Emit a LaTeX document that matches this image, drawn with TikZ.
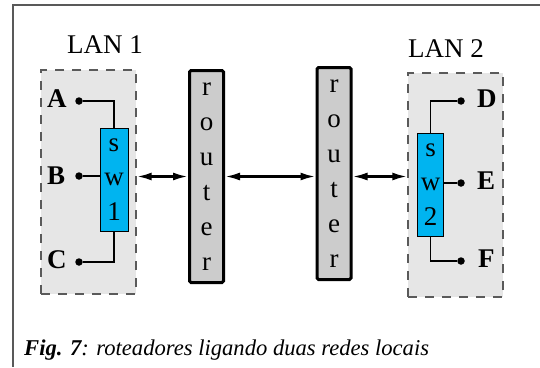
\documentclass[tikz,border=0pt]{standalone}
\usepackage{fontspec}
\setmainfont{Liberation Serif}
\usetikzlibrary{arrows.meta,positioning}
\definecolor{lanGray}{RGB}{230,230,230}
\definecolor{swBlue}{RGB}{0,180,240}
\definecolor{routerGray}{RGB}{204,204,204}
\definecolor{dashGray}{RGB}{90,90,90}
\tikzstyle{lanBox} = [rectangle, draw=dashGray, fill=lanGray, dash pattern=on 9pt off 8pt, line width=1.3pt, inner sep=0pt]
\tikzstyle{swNode} = [rectangle, draw=black, fill=swBlue, line width=0.8pt, inner sep=0pt, align=center, font=\fontsize{27}{34.5}\selectfont]
\tikzstyle{routerNode} = [rectangle, draw=black, fill=routerGray, line width=3pt, rounded corners=1.5pt, minimum width=34pt, minimum height=212pt, inner sep=0pt, align=center, font=\fontsize{27}{35}\selectfont]
\tikzstyle{hostDot} = [circle, fill=black, inner sep=0pt, minimum size=7.5pt]
\tikzstyle{hostLabel} = [font=\fontsize{27}{30}\selectfont\bfseries, inner sep=0pt, anchor=west]
\tikzstyle{lanLabel} = [font=\fontsize{27}{30}\selectfont, inner sep=0pt, anchor=base]
\tikzstyle{wire} = [line width=1.3pt]
\tikzstyle{link} = [line width=2.5pt, {Latex[length=15pt,width=8pt]}-{Latex[length=15pt,width=8pt]}]

\begin{document}
\begin{tikzpicture}[x=1pt, y=-1pt]
    \useasboundingbox (0,0) rectangle (540,367);
    \draw[line width=1.2pt, draw=black!65] (540,5) -| (13,367);

    % the two local networks
    \node (lan1) [lanBox, minimum width=95pt, minimum height=224pt] at (88.5,182) {};
    \node (lan2) [lanBox, minimum width=95pt, minimum height=224pt] at (455.5,185) {};
    \node (lan1label) [lanLabel] at (105,53) {LAN 1};
    \node (lan2label) [lanLabel] at (446,57) {LAN 2};

    % switches
    \node (sw1) [swNode, minimum width=28pt, minimum height=103pt] at (114,179.5) {s\\w\\1};
    \node (sw2) [swNode, minimum width=26pt, minimum height=103pt] at (430.5,184.5) {s\\w\\2};

    % routers
    \node (router1) [routerNode] at (206.5,176.5) {r\\o\\u\\t\\e\\r};
    \node (router2) [routerNode] at (334,173.5) {r\\o\\u\\t\\e\\r};

    % hosts
    \node (dotA) [hostDot] at (79,101) {};
    \node (dotB) [hostDot] at (79,176) {};
    \node (dotC) [hostDot] at (79,262) {};
    \node (dotD) [hostDot] at (461,101) {};
    \node (dotE) [hostDot] at (461,183) {};
    \node (dotF) [hostDot] at (461,261) {};
    \node (labA) [hostLabel] at (47,99) {A};
    \node (labB) [hostLabel] at (47,176) {B};
    \node (labC) [hostLabel] at (47,260) {C};
    \node (labD) [hostLabel] at (477,99) {D};
    \node (labE) [hostLabel] at (477,181) {E};
    \node (labF) [hostLabel] at (478,259) {F};

    \draw [wire] (dotA) -| (sw1.north);
    \draw [wire] (dotB) -- (dotB -| sw1.west);
    \draw [wire] (dotC) -| (sw1.south);
    \draw [wire] (dotD) -| (sw2.north);
    \draw [wire] (dotE) -- (dotE -| sw2.east);
    \draw [wire] (dotF) -| (sw2.south);

    \draw [link] (lan1.east |- router1.west) -- (router1.west);
    \draw [link] (router1.east) -- (router1.east -| router2.west);
    \draw [link] (router2.east |- router1.east) -- (lan2.west |- router1.east);

    \node (caption) [anchor=base west, inner sep=0pt, font=\fontsize{22.6}{26}\selectfont\itshape] at (24,355) {\textbf{Fig. 7}: roteadores ligando duas redes locais};
\end{tikzpicture}
\end{document}
